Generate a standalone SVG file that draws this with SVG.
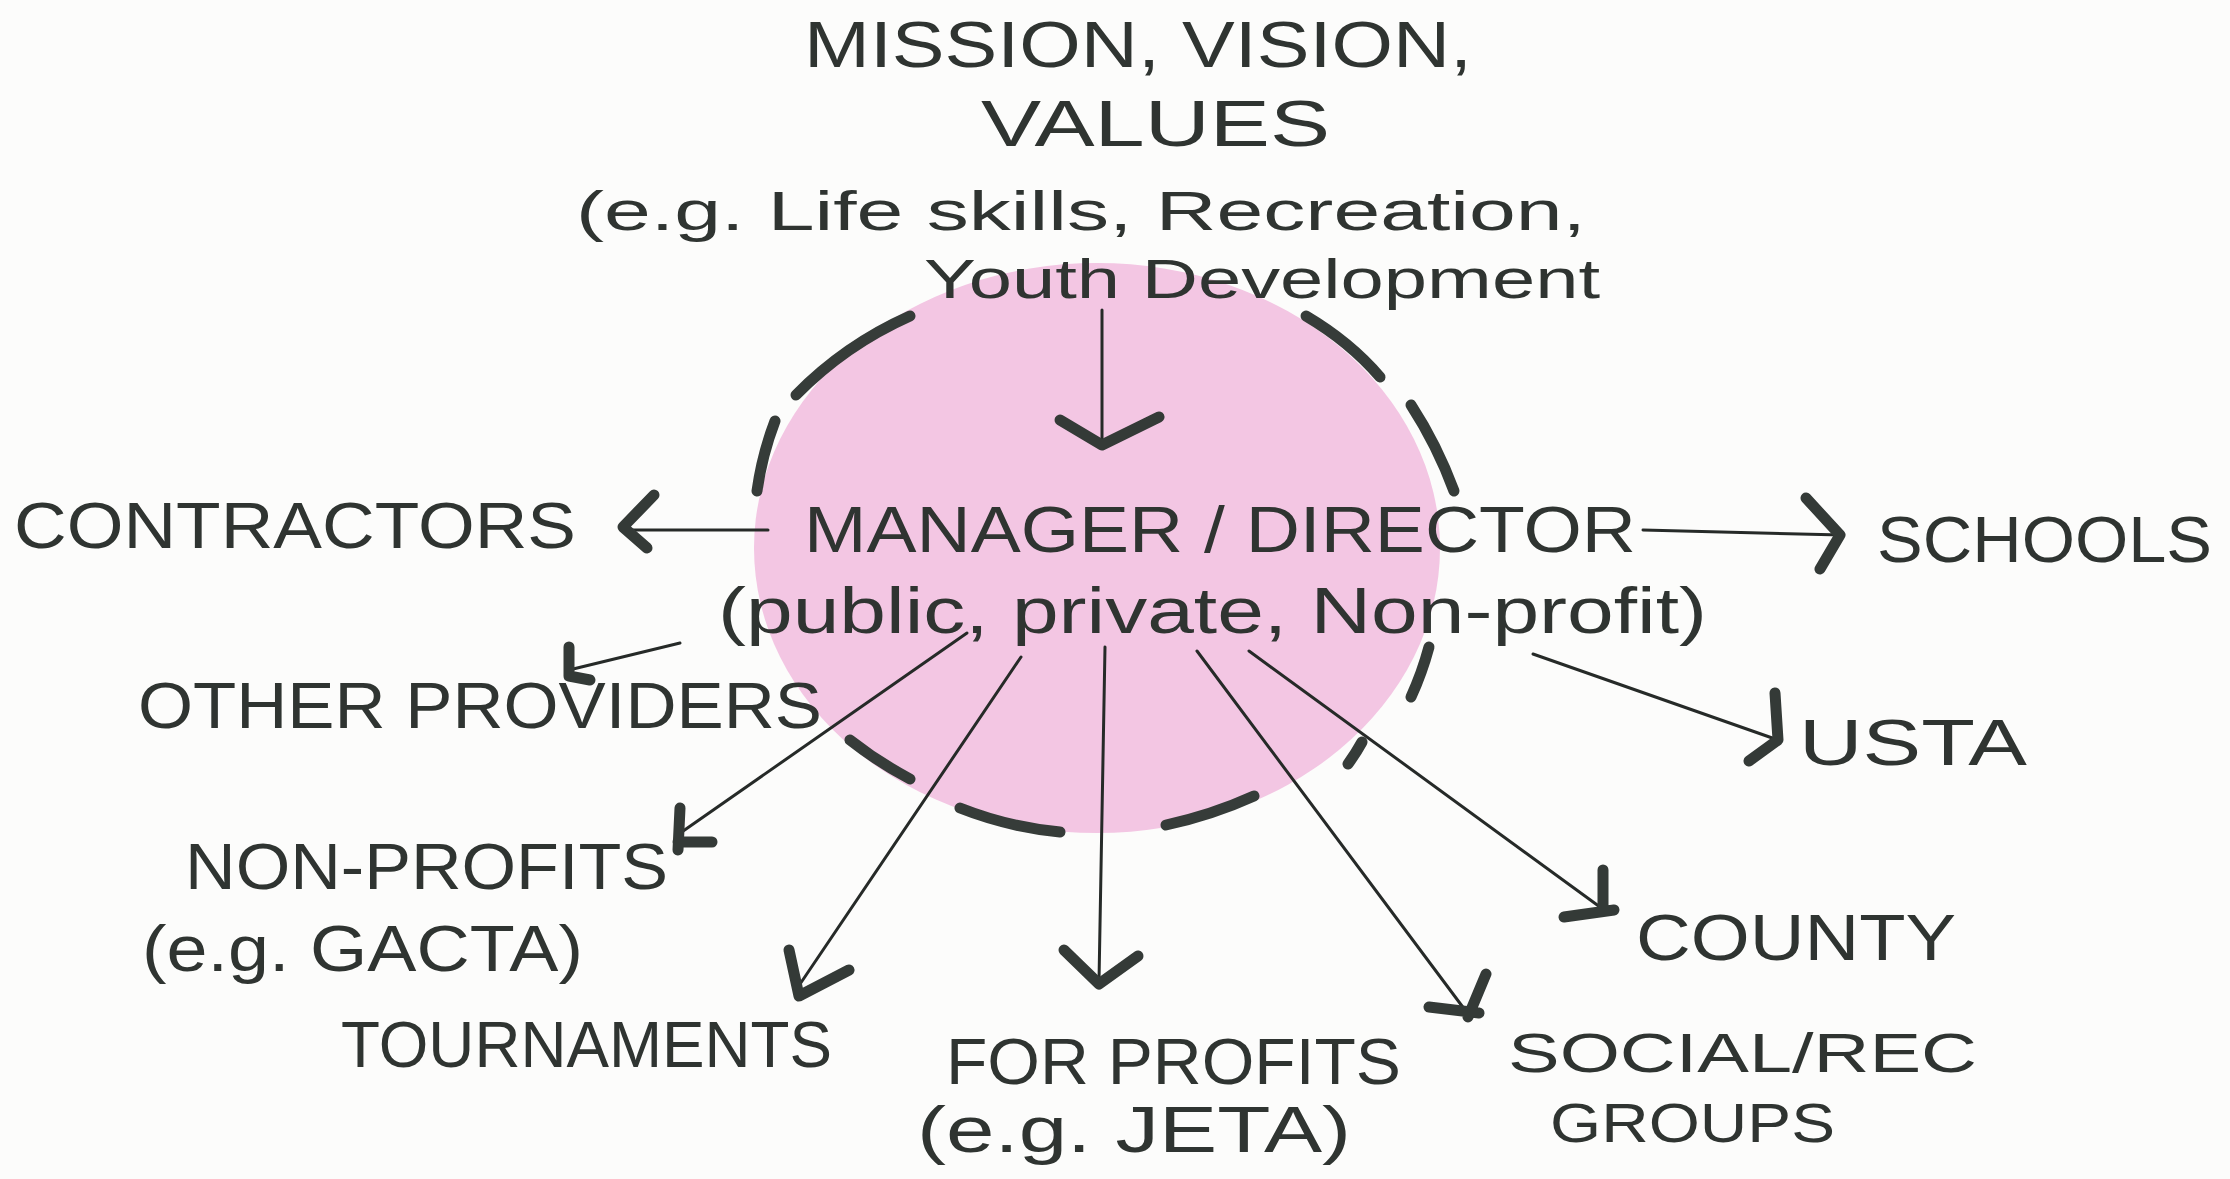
<svg xmlns="http://www.w3.org/2000/svg" width="2230" height="1179" viewBox="0 0 2230 1179">
<style>
  .t { font-family: "Liberation Sans", "DejaVu Sans", sans-serif; fill: #2f3431; font-size: 64px; }
  .s { font-size: 56px; }
  .ln { stroke: #262a28; stroke-width: 3; fill: none; stroke-linecap: round; }
  .hd { stroke: #343a37; stroke-width: 11; fill: none; stroke-linecap: round; stroke-linejoin: round; }
  .dash { stroke: #363c39; stroke-width: 11; fill: none; stroke-linecap: round; }
</style>
<rect x="0" y="0" width="2230" height="1179" fill="#fcfcfb"/>

<g id="manager">
  <ellipse cx="1097" cy="548" rx="343" ry="285" fill="#f3c6e3"/>
  <path class="dash" d="M796,395 Q845,345 910,316"/>
  <path class="dash" d="M775,421 Q762,455 757,491"/>
  <path class="dash" d="M1306,316 Q1350,342 1380,377"/>
  <path class="dash" d="M1411,405 Q1437,445 1454,491"/>
  <path class="dash" d="M1429,647 Q1422,673 1411,697"/>
  <path class="dash" d="M1362,742 Q1356,753 1348,764"/>
  <path class="dash" d="M1166,825 Q1212,815 1254,796"/>
  <path class="dash" d="M960,808 Q1008,827 1060,832"/>
  <path class="dash" d="M850,740 Q878,762 910,779"/>
  <text class="t" x="804" y="552" textLength="832" lengthAdjust="spacingAndGlyphs">MANAGER / DIRECTOR</text>
  <text class="t" x="718" y="633" textLength="989" lengthAdjust="spacingAndGlyphs">(public, private, Non-profit)</text>
</g>

<g id="mission">
  <text class="t" x="804" y="67" textLength="668" lengthAdjust="spacingAndGlyphs">MISSION, VISION,</text>
  <text class="t" x="981" y="146" textLength="349" lengthAdjust="spacingAndGlyphs">VALUES</text>
  <text class="t s" x="576" y="230" textLength="1010" lengthAdjust="spacingAndGlyphs">(e.g. Life skills, Recreation,</text>
  <text class="t s" x="924" y="298" textLength="676" lengthAdjust="spacingAndGlyphs">Youth Development</text>
</g>

<g id="contractors"><text class="t" x="14" y="548" textLength="562" lengthAdjust="spacingAndGlyphs">CONTRACTORS</text></g>
<g id="schools"><text class="t" x="1877" y="562" textLength="335" lengthAdjust="spacingAndGlyphs">SCHOOLS</text></g>
<g id="other-providers"><text class="t" x="138" y="728" textLength="684" lengthAdjust="spacingAndGlyphs">OTHER PROVIDERS</text></g>
<g id="usta"><text class="t" x="1799" y="765" textLength="228" lengthAdjust="spacingAndGlyphs">USTA</text></g>
<g id="non-profits">
  <text class="t" x="185" y="889" textLength="483" lengthAdjust="spacingAndGlyphs">NON-PROFITS</text>
  <text class="t" x="142" y="971" textLength="441" lengthAdjust="spacingAndGlyphs">(e.g. GACTA)</text>
</g>
<g id="tournaments"><text class="t" x="341" y="1067" textLength="491" lengthAdjust="spacingAndGlyphs">TOURNAMENTS</text></g>
<g id="for-profits">
  <text class="t" x="946" y="1084" textLength="455" lengthAdjust="spacingAndGlyphs">FOR PROFITS</text>
  <text class="t" x="917" y="1152" textLength="434" lengthAdjust="spacingAndGlyphs">(e.g. JETA)</text>
</g>
<g id="county"><text class="t" x="1636" y="960" textLength="320" lengthAdjust="spacingAndGlyphs">COUNTY</text></g>
<g id="social-rec">
  <text class="t s" x="1508" y="1072" textLength="469" lengthAdjust="spacingAndGlyphs">SOCIAL/REC</text>
  <text class="t s" x="1550" y="1142" textLength="285" lengthAdjust="spacingAndGlyphs">GROUPS</text>
</g>

<g id="connectors">
  <!-- mission -> manager -->
  <line class="ln" x1="1102" y1="310" x2="1102" y2="444"/>
  <path class="hd" d="M1060,420 L1102,445 L1159,417"/>
  <!-- contractors -->
  <line class="ln" x1="768" y1="530" x2="626" y2="530"/>
  <path class="hd" d="M654,495 L623,527 L647,548"/>
  <!-- schools -->
  <line class="ln" x1="1643" y1="530" x2="1842" y2="535"/>
  <path class="hd" d="M1806,498 L1840,535 L1820,569"/>
  <!-- other providers -->
  <line class="ln" x1="680" y1="643" x2="569" y2="670"/>
  <path class="hd" d="M569,647 L569,676 L590,680"/>
  <!-- usta -->
  <line class="ln" x1="1533" y1="654" x2="1778" y2="740"/>
  <path class="hd" d="M1775,693 L1778,740 L1749,761"/>
  <!-- non-profits -->
  <line class="ln" x1="967" y1="633" x2="676" y2="836"/>
  <path class="hd" d="M680,808 L678,850 M678,842 L712,842"/>
  <!-- tournaments -->
  <line class="ln" x1="1021" y1="657" x2="796" y2="990"/>
  <path class="hd" d="M789,950 L799,996 L849,970"/>
  <!-- for profits -->
  <line class="ln" x1="1105" y1="647" x2="1099" y2="981"/>
  <path class="hd" d="M1064,950 L1099,984 L1138,956"/>
  <!-- social/rec -->
  <line class="ln" x1="1197" y1="651" x2="1465" y2="1010"/>
  <path class="hd" d="M1429,1007 L1479,1013 M1486,974 L1468,1017"/>
  <!-- county -->
  <line class="ln" x1="1249" y1="651" x2="1600" y2="907"/>
  <path class="hd" d="M1603,870 L1603,910 M1564,917 L1614,910"/>
</g>
</svg>
